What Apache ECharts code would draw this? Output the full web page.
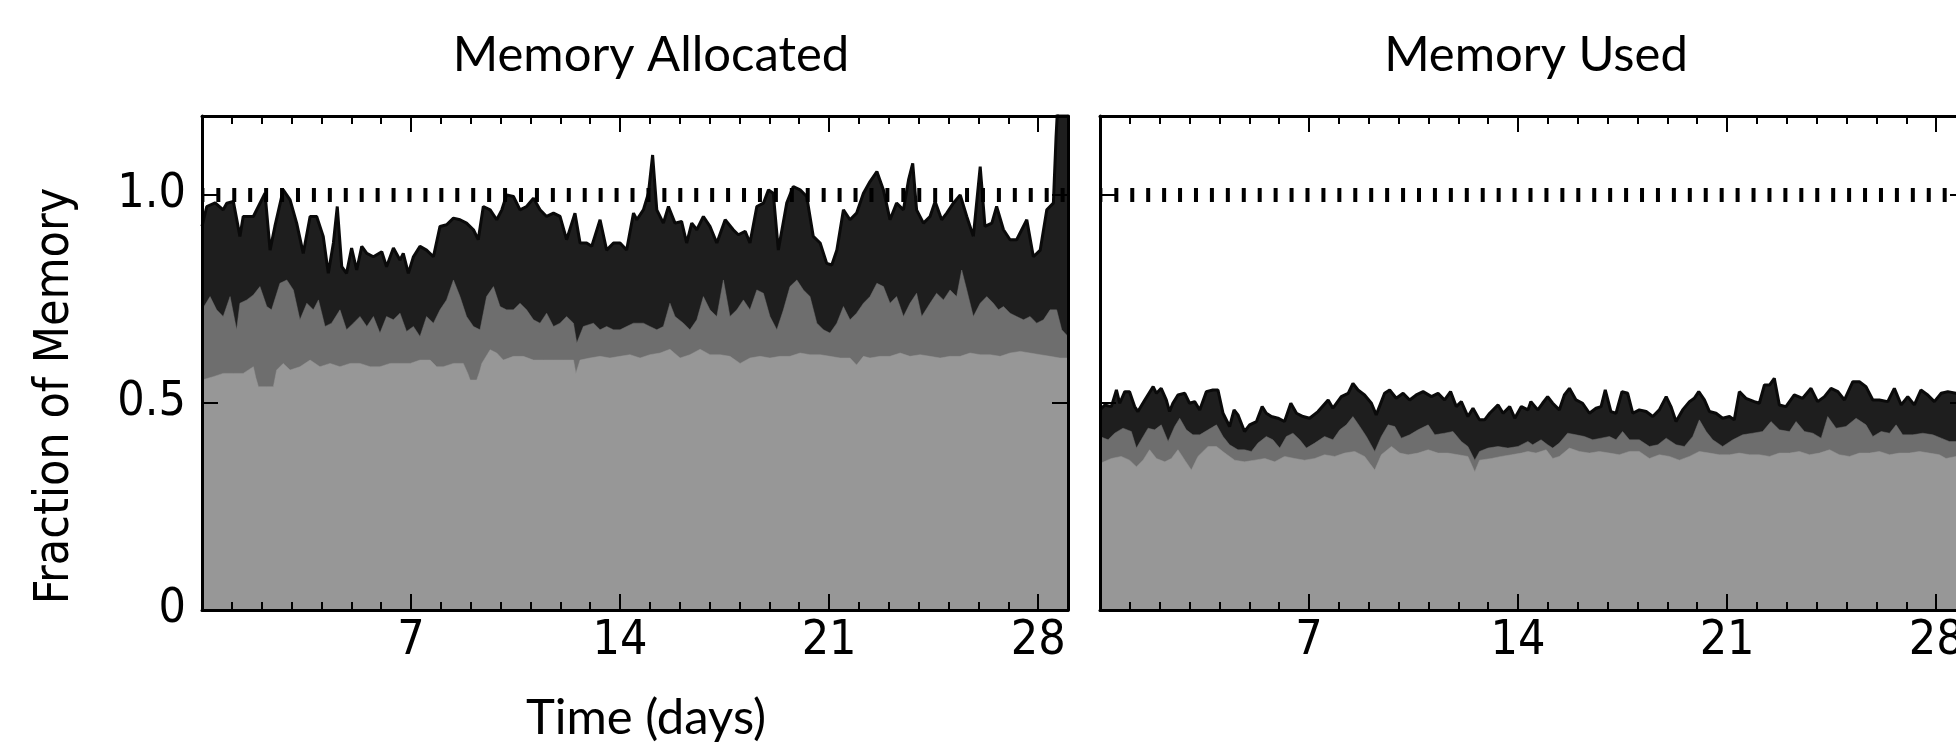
<!DOCTYPE html>
<html><head><meta charset="utf-8">
<script src="https://cdn.jsdelivr.net/npm/echarts@6/dist/echarts.min.js"></script>
<style>html,body{margin:0;padding:0;background:#fff}#c{width:1956px;height:742px}</style>
</head><body><div id="c"></div>
<script>
// ---- data (day, fraction) ----
const xTickValues = [7, 14, 21, 28];
const yTickValues = [0, 0.5, 1.0];
const capacityLevel = 1.0;

const allocTotal = [[0,0.924],[0.16,0.972],[0.44,0.981],[0.71,0.964],[0.83,0.980],[1.05,0.984],[1.27,0.900],[1.38,0.948],[1.72,0.948],[2.11,1.004],[2.28,0.867],[2.44,0.924],[2.72,1.012],[2.95,0.988],[3.17,0.932],[3.39,0.859],[3.62,0.948],[3.84,0.948],[4.06,0.900],[4.23,0.811],[4.40,0.884],[4.53,0.972],[4.68,0.827],[4.84,0.811],[5.01,0.872],[5.18,0.819],[5.35,0.876],[5.52,0.859],[5.74,0.851],[6.02,0.863],[6.18,0.827],[6.41,0.872],[6.63,0.843],[6.74,0.859],[6.91,0.811],[7.08,0.851],[7.30,0.876],[7.52,0.867],[7.75,0.851],[7.97,0.924],[8.19,0.928],[8.42,0.944],[8.64,0.940],[8.86,0.932],[9.09,0.916],[9.25,0.892],[9.42,0.972],[9.65,0.964],[9.87,0.940],[10.04,0.964],[10.20,1.000],[10.43,0.996],[10.65,0.964],[10.87,0.972],[11.10,0.992],[11.32,0.964],[11.54,0.948],[11.77,0.956],[11.99,0.948],[12.21,0.892],[12.49,0.956],[12.66,0.884],[12.88,0.884],[13.05,0.876],[13.33,0.940],[13.55,0.867],[13.78,0.884],[14.00,0.884],[14.22,0.867],[14.45,0.956],[14.56,0.940],[14.78,0.964],[14.95,1.004],[15.09,1.096],[15.23,0.964],[15.45,0.932],[15.62,0.972],[15.84,0.932],[16.06,0.936],[16.23,0.884],[16.40,0.932],[16.57,0.916],[16.79,0.948],[17.01,0.924],[17.24,0.884],[17.52,0.940],[17.79,0.916],[17.96,0.904],[18.19,0.912],[18.35,0.884],[18.58,0.972],[18.80,0.980],[18.97,1.012],[19.13,1.004],[19.30,0.867],[19.58,0.980],[19.80,1.020],[20.03,1.012],[20.25,0.996],[20.47,0.900],[20.70,0.884],[20.92,0.835],[21.09,0.831],[21.26,0.867],[21.48,0.964],[21.70,0.940],[21.92,0.956],[22.15,1.004],[22.37,1.032],[22.60,1.056],[22.82,1.012],[23.04,0.940],[23.26,0.980],[23.49,0.964],[23.66,1.036],[23.80,1.076],[23.93,0.964],[24.16,0.932],[24.38,0.948],[24.55,0.984],[24.77,0.940],[24.94,0.956],[25.16,0.980],[25.39,1.000],[25.61,0.948],[25.83,0.900],[26.06,1.068],[26.22,0.924],[26.45,0.932],[26.61,0.972],[26.84,0.916],[27.06,0.892],[27.28,0.892],[27.45,0.916],[27.62,0.940],[27.84,0.851],[28.07,0.867],[28.29,0.964],[28.51,0.980],[28.60,1.14],[28.68,1.25],[29,1.25]];

const allocMid = [[0,0.723],[0.27,0.755],[0.49,0.723],[0.71,0.707],[0.94,0.755],[1.16,0.675],[1.27,0.739],[1.50,0.747],[1.72,0.759],[1.94,0.779],[2.17,0.731],[2.33,0.723],[2.61,0.787],[2.84,0.795],[3.06,0.771],[3.28,0.699],[3.51,0.739],[3.73,0.723],[3.90,0.747],[4.12,0.683],[4.34,0.691],[4.62,0.723],[4.84,0.675],[5.07,0.691],[5.29,0.707],[5.52,0.683],[5.74,0.707],[5.96,0.667],[6.18,0.707],[6.41,0.699],[6.63,0.715],[6.85,0.671],[7.08,0.683],[7.30,0.659],[7.52,0.707],[7.75,0.691],[7.97,0.723],[8.19,0.747],[8.42,0.795],[8.64,0.755],[8.86,0.707],[9.09,0.683],[9.31,0.675],[9.53,0.755],[9.76,0.779],[9.98,0.731],[10.20,0.723],[10.43,0.723],[10.65,0.739],[10.87,0.723],[11.10,0.699],[11.32,0.691],[11.54,0.715],[11.77,0.683],[11.99,0.691],[12.21,0.707],[12.44,0.691],[12.55,0.643],[12.77,0.683],[13.11,0.691],[13.33,0.675],[13.55,0.683],[13.78,0.675],[14.00,0.675],[14.22,0.683],[14.45,0.691],[14.78,0.691],[15.00,0.683],[15.23,0.675],[15.45,0.683],[15.67,0.739],[15.84,0.707],[16.12,0.691],[16.34,0.675],[16.57,0.699],[16.79,0.755],[17.01,0.723],[17.24,0.707],[17.46,0.795],[17.68,0.707],[17.91,0.723],[18.13,0.747],[18.35,0.723],[18.58,0.771],[18.80,0.763],[19.02,0.707],[19.25,0.675],[19.47,0.723],[19.69,0.779],[19.92,0.795],[20.14,0.771],[20.36,0.755],[20.59,0.691],[20.81,0.675],[21.03,0.667],[21.26,0.691],[21.48,0.731],[21.70,0.699],[21.92,0.715],[22.15,0.739],[22.37,0.755],[22.60,0.787],[22.82,0.779],[23.04,0.739],[23.26,0.755],[23.49,0.707],[23.71,0.739],[23.93,0.763],[24.10,0.707],[24.38,0.739],[24.60,0.763],[24.83,0.747],[25.05,0.771],[25.27,0.755],[25.44,0.819],[25.61,0.771],[25.83,0.707],[26.06,0.739],[26.28,0.755],[26.50,0.739],[26.67,0.723],[26.84,0.731],[27.06,0.715],[27.28,0.707],[27.51,0.699],[27.73,0.707],[27.95,0.691],[28.18,0.699],[28.40,0.723],[28.62,0.723],[28.79,0.675],[29,0.659]];

const allocLow = [[0,0.554],[0.38,0.562],[0.71,0.570],[1.05,0.570],[1.38,0.570],[1.72,0.586],[1.80,0.560],[1.89,0.538],[2.17,0.538],[2.39,0.538],[2.50,0.578],[2.72,0.594],[2.95,0.578],[3.28,0.586],[3.62,0.602],[3.95,0.586],[4.29,0.594],[4.62,0.586],[4.96,0.594],[5.29,0.594],[5.63,0.586],[5.96,0.586],[6.30,0.594],[6.63,0.594],[6.97,0.594],[7.30,0.602],[7.64,0.602],[7.86,0.586],[8.08,0.586],[8.42,0.594],[8.75,0.594],[8.90,0.570],[8.98,0.554],[9.20,0.554],[9.30,0.575],[9.37,0.594],[9.65,0.627],[9.87,0.619],[10.09,0.602],[10.43,0.611],[10.76,0.611],[11.10,0.602],[11.43,0.602],[11.77,0.602],[12.10,0.602],[12.44,0.602],[12.52,0.570],[12.58,0.570],[12.66,0.602],[12.99,0.607],[13.33,0.611],[13.66,0.607],[14.00,0.611],[14.33,0.615],[14.67,0.607],[15.00,0.615],[15.34,0.619],[15.67,0.628],[16.01,0.607],[16.34,0.615],[16.68,0.628],[17.01,0.615],[17.35,0.615],[17.68,0.611],[18.02,0.594],[18.35,0.607],[18.69,0.611],[19.02,0.607],[19.36,0.611],[19.69,0.611],[20.03,0.619],[20.36,0.615],[20.70,0.615],[21.03,0.611],[21.37,0.607],[21.70,0.607],[21.92,0.590],[22.15,0.611],[22.37,0.607],[22.71,0.611],[23.04,0.611],[23.38,0.619],[23.71,0.611],[24.05,0.615],[24.38,0.611],[24.72,0.607],[25.05,0.611],[25.39,0.611],[25.72,0.619],[26.06,0.615],[26.39,0.615],[26.73,0.611],[27.06,0.619],[27.40,0.623],[27.73,0.619],[28.07,0.615],[28.40,0.611],[28.73,0.607],[29,0.607]];

const usedTotal = [[0,0.482],[0.16,0.494],[0.38,0.490],[0.55,0.530],[0.66,0.498],[0.83,0.526],[0.99,0.526],[1.16,0.490],[1.27,0.478],[1.50,0.506],[1.78,0.538],[1.89,0.522],[2.05,0.534],[2.22,0.506],[2.33,0.478],[2.44,0.498],[2.61,0.518],[2.84,0.522],[3.00,0.498],[3.17,0.502],[3.34,0.482],[3.56,0.526],[3.78,0.530],[3.95,0.530],[4.12,0.474],[4.34,0.442],[4.49,0.482],[4.62,0.470],[4.84,0.430],[5.01,0.446],[5.24,0.454],[5.43,0.490],[5.57,0.474],[5.74,0.466],[5.96,0.462],[6.18,0.454],[6.39,0.498],[6.58,0.474],[6.80,0.466],[7.02,0.462],[7.30,0.478],[7.64,0.506],[7.80,0.486],[8.08,0.514],[8.31,0.522],[8.47,0.546],[8.64,0.530],[8.86,0.518],[9.09,0.498],[9.25,0.470],[9.53,0.522],[9.70,0.530],[9.92,0.510],[10.15,0.522],[10.37,0.506],[10.59,0.518],[10.82,0.526],[11.10,0.514],[11.32,0.522],[11.54,0.506],[11.74,0.526],[11.93,0.490],[12.10,0.502],[12.32,0.466],[12.49,0.486],[12.71,0.458],[12.88,0.458],[13.05,0.474],[13.33,0.494],[13.50,0.474],[13.72,0.490],[13.89,0.462],[14.11,0.490],[14.33,0.482],[14.43,0.502],[14.66,0.482],[14.82,0.498],[14.99,0.514],[15.16,0.498],[15.38,0.482],[15.55,0.518],[15.72,0.534],[15.94,0.506],[16.16,0.498],[16.39,0.474],[16.61,0.486],[16.78,0.490],[16.92,0.530],[17.11,0.478],[17.28,0.474],[17.48,0.526],[17.67,0.522],[17.84,0.474],[18.06,0.482],[18.29,0.478],[18.51,0.466],[18.73,0.482],[18.96,0.514],[19.12,0.490],[19.29,0.454],[19.51,0.482],[19.74,0.502],[19.90,0.510],[20.05,0.526],[20.24,0.506],[20.41,0.478],[20.63,0.474],[20.85,0.462],[21.08,0.466],[21.24,0.458],[21.41,0.526],[21.63,0.510],[21.91,0.502],[22.08,0.498],[22.25,0.542],[22.42,0.542],[22.58,0.558],[22.75,0.494],[22.97,0.490],[23.25,0.518],[23.53,0.510],[23.81,0.534],[24.03,0.502],[24.26,0.514],[24.48,0.534],[24.71,0.526],[24.93,0.506],[25.21,0.550],[25.43,0.550],[25.65,0.538],[25.88,0.506],[26.10,0.506],[26.38,0.502],[26.60,0.534],[26.83,0.494],[27.05,0.514],[27.27,0.494],[27.49,0.530],[27.72,0.518],[27.94,0.502],[28.17,0.522],[28.39,0.526],[28.67,0.522],[29,0.515]];

const usedMid = [[0,0.418],[0.27,0.410],[0.49,0.426],[0.77,0.438],[1.05,0.430],[1.22,0.390],[1.38,0.410],[1.61,0.438],[1.83,0.434],[2.05,0.446],[2.28,0.406],[2.50,0.442],[2.67,0.462],[2.89,0.434],[3.11,0.422],[3.34,0.422],[3.62,0.434],[3.90,0.446],[4.12,0.418],[4.34,0.398],[4.62,0.386],[4.84,0.386],[5.07,0.382],[5.29,0.402],[5.57,0.418],[5.79,0.410],[6.02,0.390],[6.24,0.418],[6.46,0.426],[6.69,0.410],[6.91,0.390],[7.19,0.402],[7.52,0.418],[7.80,0.410],[8.03,0.434],[8.25,0.446],[8.47,0.466],[8.70,0.442],[8.92,0.418],[9.20,0.382],[9.42,0.418],[9.65,0.446],[9.87,0.442],[10.09,0.414],[10.37,0.422],[10.65,0.434],[10.99,0.446],[11.21,0.422],[11.54,0.426],[11.82,0.430],[12.10,0.406],[12.32,0.394],[12.55,0.361],[12.71,0.382],[12.99,0.390],[13.33,0.394],[13.66,0.390],[14.00,0.394],[14.33,0.406],[14.49,0.398],[14.77,0.410],[14.99,0.398],[15.16,0.390],[15.38,0.402],[15.66,0.426],[15.94,0.422],[16.22,0.418],[16.50,0.410],[16.78,0.414],[17.06,0.418],[17.28,0.410],[17.50,0.430],[17.73,0.410],[18.06,0.410],[18.40,0.394],[18.68,0.398],[18.96,0.414],[19.29,0.398],[19.57,0.394],[19.85,0.418],[20.07,0.458],[20.30,0.430],[20.52,0.410],[20.85,0.394],[21.19,0.410],[21.52,0.422],[21.86,0.426],[22.19,0.430],[22.47,0.454],[22.75,0.434],[23.09,0.430],[23.31,0.454],[23.59,0.430],[23.87,0.426],[24.15,0.414],[24.37,0.466],[24.65,0.438],[24.98,0.442],[25.32,0.462],[25.65,0.446],[25.88,0.418],[26.16,0.430],[26.44,0.426],[26.66,0.446],[26.88,0.422],[27.22,0.422],[27.55,0.426],[27.89,0.422],[28.17,0.414],[28.44,0.406],[28.67,0.406],[29,0.406]];

const usedLow = [[0,0.353],[0.38,0.365],[0.71,0.370],[0.99,0.361],[1.22,0.345],[1.44,0.361],[1.66,0.386],[1.89,0.365],[2.17,0.357],[2.39,0.365],[2.61,0.386],[2.84,0.361],[3.06,0.337],[3.28,0.370],[3.62,0.394],[3.90,0.394],[4.18,0.378],[4.51,0.361],[4.84,0.357],[5.18,0.361],[5.52,0.365],[5.85,0.357],[6.18,0.370],[6.52,0.365],[6.85,0.361],[7.19,0.365],[7.52,0.374],[7.86,0.370],[8.19,0.378],[8.53,0.382],[8.86,0.370],[9.20,0.337],[9.42,0.374],[9.76,0.394],[10.04,0.378],[10.32,0.374],[10.65,0.378],[10.99,0.386],[11.32,0.378],[11.65,0.378],[11.99,0.374],[12.32,0.370],[12.55,0.333],[12.71,0.361],[13.11,0.365],[13.44,0.370],[13.78,0.374],[14.11,0.378],[14.33,0.382],[14.60,0.378],[14.94,0.386],[15.16,0.365],[15.38,0.370],[15.72,0.390],[16.05,0.382],[16.39,0.378],[16.72,0.382],[17.06,0.378],[17.39,0.374],[17.73,0.382],[18.06,0.382],[18.40,0.365],[18.73,0.374],[19.07,0.370],[19.40,0.361],[19.74,0.370],[20.07,0.382],[20.41,0.378],[20.74,0.374],[21.08,0.374],[21.41,0.378],[21.75,0.374],[22.08,0.374],[22.42,0.370],[22.75,0.378],[23.09,0.378],[23.42,0.382],[23.76,0.374],[24.09,0.378],[24.43,0.386],[24.76,0.374],[25.10,0.370],[25.43,0.378],[25.77,0.378],[26.10,0.382],[26.44,0.374],[26.77,0.378],[27.10,0.378],[27.44,0.382],[27.77,0.378],[28.11,0.374],[28.33,0.365],[28.67,0.370],[29,0.370]];

// ---- chart ----
const BLACK = '#000';
const TICK_FONT = '"DejaVu Sans Condensed", "DejaVu Sans", sans-serif';
const TITLE_FONT = 'Lato, "Open Sans", sans-serif';
const X_MIN = 0, X_MAX = 29, Y_MIN = 0, Y_MAX = 1.19;

function xMajor(gi, pos, showLabels, name) {
  const ax = {
    type: 'value', gridIndex: gi, position: pos, min: X_MIN, max: X_MAX, z: 10,
    axisLine: { show: true, onZero: false, lineStyle: { color: BLACK, width: 3 } },
    axisTick: { show: true, inside: true, length: 16, customValues: xTickValues, lineStyle: { color: BLACK, width: 2 } },
    axisLabel: showLabels ? { show: true, customValues: xTickValues, fontFamily: TICK_FONT, fontSize: 48, color: BLACK, margin: 8 } : { show: false },
    splitLine: { show: false }
  };
  if (name) {
    ax.name = name; ax.nameLocation = 'middle'; ax.nameGap = 84;
    ax.nameTextStyle = { fontFamily: TITLE_FONT, fontSize: 49, color: BLACK, padding: [0, 0, 0, 22] };
  }
  return ax;
}
function xMinor(gi, pos) {
  return {
    type: 'value', gridIndex: gi, position: pos, min: X_MIN, max: X_MAX, interval: 1, z: 10,
    axisLine: { show: false, onZero: false },
    axisTick: { show: true, inside: true, length: 8, lineStyle: { color: BLACK, width: 2 } },
    axisLabel: { show: false }, splitLine: { show: false }
  };
}
function yAx(gi, pos, showLabels, name) {
  const ax = {
    type: 'value', gridIndex: gi, position: pos, min: Y_MIN, max: Y_MAX, z: 10,
    axisLine: { show: true, onZero: false, lineStyle: { color: BLACK, width: 3 } },
    axisTick: { show: true, inside: true, length: 16, customValues: [0.5, 1.0], lineStyle: { color: BLACK, width: 2 } },
    axisLabel: showLabels ? {
      show: true, customValues: yTickValues, fontFamily: TICK_FONT, fontSize: 48, color: BLACK, margin: 16,
      formatter: v => (v === 0 ? '0' : v.toFixed(1))
    } : { show: false },
    splitLine: { show: false }
  };
  if (name) {
    ax.name = name; ax.nameLocation = 'middle'; ax.nameRotate = 90; ax.nameGap = 122;
    ax.nameTextStyle = { fontFamily: TICK_FONT, fontSize: 48, color: BLACK, padding: [0, 66, 0, 0] };
  }
  return ax;
}
function area(data, xi, yi, fill, lineColor, lineWidth, withMark) {
  const s = {
    type: 'line', xAxisIndex: xi, yAxisIndex: yi, data: data,
    showSymbol: false, symbol: 'none', silent: true, animation: false, clip: true,
    lineStyle: { color: lineColor, width: lineWidth },
    areaStyle: { color: fill, opacity: 1 },
    emphasis: { disabled: true }
  };
  if (withMark) {
    s.markLine = {
      silent: true, animation: false, symbol: ['none', 'none'], label: { show: false },
      lineStyle: { color: BLACK, width: 14, type: [4, 11.93], dashOffset: 1.6, opacity: 1 },
      emphasis: { disabled: true },
      data: [{ yAxis: capacityLevel }]
    };
  }
  return s;
}

const chart = echarts.init(document.getElementById('c'), null, { width: 1956, height: 742 });
chart.setOption({
  animation: false,
  backgroundColor: '#fff',
  grid: [
    { left: 202, top: 116, width: 866, height: 494, containLabel: false, outerBoundsMode: 'none' },
    { left: 1100, top: 116, width: 866, height: 494, containLabel: false, outerBoundsMode: 'none' }
  ],
  xAxis: [
    xMajor(0, 'bottom', true, 'Time (days)'), xMinor(0, 'bottom'), xMajor(0, 'top', false), xMinor(0, 'top'),
    xMajor(1, 'bottom', true), xMinor(1, 'bottom'), xMajor(1, 'top', false), xMinor(1, 'top')
  ],
  yAxis: [
    yAx(0, 'left', true, 'Fraction of Memory'), yAx(0, 'right', false),
    yAx(1, 'left', false), yAx(1, 'right', false)
  ],
  graphic: [
    { type: 'text', x: 651, y: 55, silent: true,
      style: { text: 'Memory Allocated', font: '49px ' + TITLE_FONT, fill: BLACK, align: 'center', verticalAlign: 'middle', textAlign: 'center', textVerticalAlign: 'middle' } },
    { type: 'text', x: 1536, y: 55, silent: true,
      style: { text: 'Memory Used', font: '49px ' + TITLE_FONT, fill: BLACK, align: 'center', verticalAlign: 'middle', textAlign: 'center', textVerticalAlign: 'middle' } }
  ],
  series: [
    area(allocTotal, 0, 0, '#1e1e1e', '#0a0a0a', 3, false),
    area(allocMid, 0, 0, '#6e6e6e', '#6e6e6e', 0.5, false),
    area(allocLow, 0, 0, '#979797', '#979797', 0.5, true),
    area(usedTotal, 4, 2, '#1e1e1e', '#0a0a0a', 3, false),
    area(usedMid, 4, 2, '#6e6e6e', '#6e6e6e', 0.5, false),
    area(usedLow, 4, 2, '#979797', '#979797', 0.5, true)
  ]
});
</script>
</body></html>
